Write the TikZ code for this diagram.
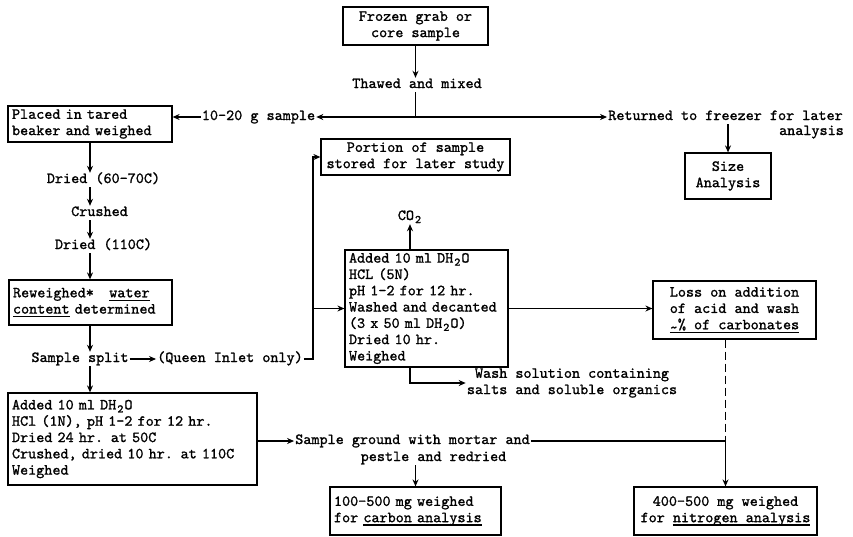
\documentclass[tikz,border=0pt]{standalone}
\usepackage{fontspec}
\setmainfont{lmmono10-regular.otf}[FakeBold=1.2]
\usetikzlibrary{arrows.meta,positioning}
\newcommand\lowtwo{\makebox[8.1pt]{\raisebox{-3pt}{\fontsize{11.5}{11.5}\selectfont 2}}}
\newcommand\ulin[1]{\leavevmode\setbox0\hbox{#1}\rlap{\rule[-3.5pt]{\wd0}{1.2pt}}\box0\relax}

\begin{document}
\begin{tikzpicture}[x=1pt,y=-1pt,
  every node/.style={font=\fontsize{15.4}{16.3}\selectfont},
  lbl/.style={inner sep=1pt,text height=9pt,text depth=3pt},
  box/.style={draw,line width=1.2pt,inner xsep=4pt,inner ysep=0pt},
  lbox/.style={box,align=left},
  cbox/.style={box,align=center},
  arr/.style={-{Stealth[length=7pt,width=6pt]},line width=1.2pt},
  link/.style={line width=1.2pt}
]
\useasboundingbox (0,0) rectangle (853,536);

% ---- Top: sample and split ---------------------------------
\node[cbox,minimum width=145pt,minimum height=38pt] (frozen) at (415.5,26) {Frozen grab or\\core sample};
\node[lbl] (thawed) at (417,85) {Thawed and mixed};
\node[lbl] (grams) at (258.5,117) {10-20 g sample};
\node[lbl] (returned) at (725.5,117) {Returned to freezer for later};
\node[lbl,anchor=east] (analysis) at (845,132) {analysis};
\node[cbox,minimum width=86pt,minimum height=46pt] (size) at (728,176) {Size\\Analysis};

% ---- Left column: drying -----------------------------------
\node[lbox,text width=156pt,minimum height=36pt] (placed) at (90,124) {Placed in tared\\beaker and weighed};
\node[lbl] (dry1) at (103.5,180) {Dried (60-70C)};
\node[lbl] (crushed) at (99.5,213) {Crushed};
\node[lbl] (dry2) at (103.5,246) {Dried (110C)};
\node[lbox,text width=155pt,minimum height=45pt] (reweigh) at (90.5,302.5) {Reweighed*\ \ \ \ulin{water}\\\ulin{content} determined};
\node[lbl] (split) at (80,359) {Sample split};
\node[lbl] (queen) at (230,359) {(Queen Inlet only)};
\node[lbox,text width=241pt,minimum height=92pt] (hcl) at (132.5,439) {Added 10 ml DH\lowtwo O\\HCl (1N), pH 1-2 for 12 hr.\\Dried 24 hr. at 50C\\Crushed, dried 10 hr. at 110C\\Weighed};

% ---- Middle: acid wash (Queen Inlet) -----------------------
\node[cbox,minimum width=189pt,minimum height=36pt] (portion) at (415.5,157) {Portion of sample\\stored for later study};
\node[lbl] (co2) at (410,217) {CO\lowtwo};
\node[lbox,text width=155pt,minimum height=117pt] (acid) at (426.5,308.5) {Added 10 ml DH\lowtwo O\\HCL (5N)\\pH 1-2 for 12 hr.\\Washed and decanted\\(3 x 50 ml DH\lowtwo O)\\Dried 10 hr.\\Weighed};
\node[align=center,inner sep=1pt] (wash) at (572,383) {Wash solution containing\\salts and soluble organics};
\node[cbox,minimum width=163pt,minimum height=58pt] (loss) at (734.5,310) {Loss on addition\\of acid and wash\\\ulin{\raisebox{-3pt}{\textasciitilde}\% of carbonates}};

% ---- Bottom: grinding and analysis -------------------------
\node[lbl] (ground) at (412.5,441) {Sample ground with mortar and};
\node[lbl] (pestle) at (433.5,458) {pestle and redried};
\node[lbox,text width=163pt,minimum height=48pt] (carbon) at (415.5,511) {100-500 mg weighed\\for \ulin{carbon analysis}};
\node[cbox,minimum width=183pt,minimum height=48pt] (nitro) at (725.5,511) {400-500 mg weighed\\for \ulin{nitrogen analysis}};

% Connectors
\coordinate (j) at (frozen.south |- grams.east);
\coordinate (bus) at (313,0);
\draw[arr] (frozen.south) -- (frozen.south |- thawed.north);
\draw[link] (frozen.south |- thawed.south) -- (j);
\draw[arr] (j) -- (grams);
\draw[arr] (grams) -- (placed.east |- grams.west);
\draw[arr] (j) -- (returned);
\draw[arr] (returned.south -| size.north) -- (size);

\draw[arr] (placed.south) -- (placed.south |- dry1.north);
\draw[arr] (dry1.south -| placed.south) -- (placed.south |- crushed.north);
\draw[arr] (crushed.south -| placed.south) -- (placed.south |- dry2.north);
\draw[arr] (dry2.south -| placed.south) -- (reweigh.north -| placed.south);
\draw[arr] (reweigh.south -| placed.south) -- (placed.south |- split.north);
\draw[arr] (split) -- (queen);
\draw[arr] (split.south -| placed.south) -- (hcl.north -| placed.south);

\draw[arr] (queen.east) -- (queen.east -| bus) |- (portion.west);
\draw[arr] (acid.west -| bus) -- (acid);
\draw[arr] (acid.north -| co2) -- (co2);
\draw[arr] (acid.south -| co2) |- (wash);
\draw[arr] (acid.east) -- (loss.west |- acid.east);

\draw[arr] (hcl.east |- ground) -- (ground);
\draw[arr] (pestle.south -| carbon.north) -- (carbon.north);
\draw[arr] (ground) -| (nitro);
\draw[link,dash pattern=on 8pt off 4pt] (loss.south -| nitro.north) -- (ground.east -| nitro.north);

\end{tikzpicture}
\end{document}
